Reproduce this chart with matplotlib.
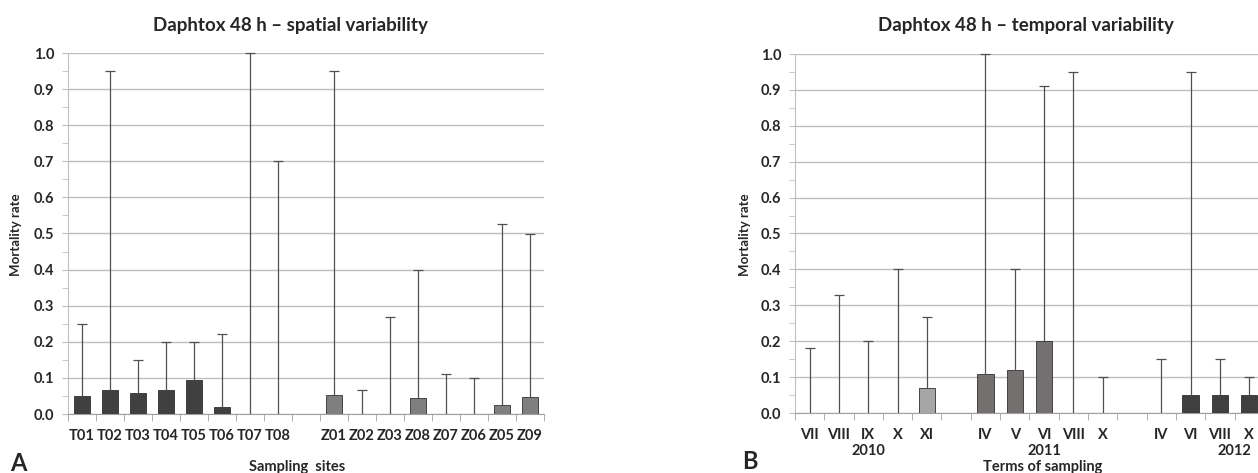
import numpy as np
import matplotlib
matplotlib.use("Agg")
from matplotlib import pyplot as plt
from matplotlib.ticker import MultipleLocator

plt.rcParams['font.family'] = ['Lato', 'DejaVu Sans']
plt.rcParams['font.weight'] = 'bold'

# spatial variability
sites = ["T01", "T02", "T03", "T04", "T05", "T06", "T07", "T08", "",
         "Z01", "Z02", "Z03", "Z08", "Z07", "Z06", "Z05", "Z09"]
site_mean = [0.05, 0.067, 0.058, 0.067, 0.095, 0.02, 0.0, 0.0, np.nan,
             0.052, 0.0, 0.0, 0.044, 0.0, 0.0, 0.025, 0.048]
site_max = [0.25, 0.95, 0.15, 0.2, 0.2, 0.222, 1.0, 0.7, np.nan,
            0.95, 0.067, 0.268, 0.4, 0.111, 0.1, 0.525, 0.5]
site_group = ["T"] * 8 + [""] + ["Z"] * 8

# temporal variability
terms = ["VII", "VIII", "IX", "X", "XI", "",
         "IV", "V", "VI", "VIII", "X", "",
         "IV", "VI", "VIII", "X", ""]
term_mean = [0, 0, 0, 0, 0.07, np.nan,
             0.11, 0.12, 0.2, 0, 0, np.nan,
             0, 0.05, 0.05, 0.05, np.nan]
term_max = [0.18, 0.33, 0.2, 0.4, 0.267, np.nan,
            1.0, 0.4, 0.91, 0.95, 0.1, np.nan,
            0.15, 0.95, 0.15, 0.1, np.nan]
term_year = ["2010"] * 5 + [""] + ["2011"] * 5 + [""] + ["2012"] * 4 + [""]
years = ["2010", "2011", "2012"]
year_pos = [2, 8, 14.5]

site_colors = {"T": "#404040", "Z": "#7f7f7f", "": "none"}
year_colors = {"2010": "#a6a6a6", "2011": "#747070", "2012": "#3f3f3f", "": "none"}

W, H = 1258, 473
fig = plt.figure(figsize=(W / 100, H / 100), dpi=100)
txt = "#262626"


def style_axes(ax, n):
    ax.set_ylim(0, 1.0)
    ax.set_xlim(-0.5, n - 0.5)
    ax.yaxis.set_major_locator(MultipleLocator(0.1))
    ax.yaxis.set_minor_locator(MultipleLocator(0.05))
    ax.yaxis.set_major_formatter(plt.FuncFormatter(lambda v, p: "%.1f" % v))
    ax.grid(axis="y", color="#bfbfbf", lw=1.0)
    ax.set_axisbelow(True)
    for s in ["top", "right"]:
        ax.spines[s].set_visible(False)
    ax.spines["left"].set_color("#bfbfbf")
    ax.spines["bottom"].set_color("#a0a0a0")
    ax.tick_params(axis="y", which="both", color="#bfbfbf", length=4,
                   labelsize=10.5, labelcolor=txt, pad=6)
    ax.tick_params(axis="x", which="major", length=0, labelsize=10.5,
                   labelcolor=txt, pad=11)
    ax.set_xticks(np.arange(-0.5, n, 1.0), minor=True)
    ax.tick_params(axis="x", which="minor", length=5, color="#a0a0a0")


def draw(ax, labels, mean, top, colors):
    n = len(labels)
    x = np.arange(n)
    mean = np.array(mean, dtype=float)
    top = np.array(top, dtype=float)
    ok = ~np.isnan(mean)
    has_bar = ok & (np.nan_to_num(mean) > 0)
    ax.bar(x[has_bar], mean[has_bar], width=0.55,
           color=[c for c, h in zip(colors, has_bar) if h],
           edgecolor="#303030", lw=0.6, zorder=3)
    ax.vlines(x[ok], mean[ok], top[ok], color="#505050", lw=0.9, zorder=4)
    ax.plot(x[ok], top[ok], ls="none", marker="_", ms=7, mew=0.9,
            color="#505050", zorder=4, clip_on=False)
    ax.set_xticks(x)
    ax.set_xticklabels(labels)
    style_axes(ax, n)


ax1 = fig.add_axes([68 / W, 1 - 414 / H, 476 / W, 361 / H])
draw(ax1, sites, site_mean, site_max, [site_colors[g] for g in site_group])

ax2 = fig.add_axes([795 / W, 1 - 413 / H, 17 * 29.3 / W, 359 / H])
draw(ax2, terms, term_mean, term_max, [year_colors[g] for g in term_year])
for yr, xp in zip(years, year_pos):
    ax2.text(xp, -0.085, yr, ha="center", va="top", fontsize=10.5,
             color=txt, transform=ax2.get_xaxis_transform(), clip_on=False)

fig.text(290 / W, 1 - 25 / H, "Daphtox 48 h – spatial variability",
         ha="center", va="center", fontsize=13.5, color=txt)
fig.text(1026 / W, 1 - 25 / H, "Daphtox 48 h – temporal variability",
         ha="center", va="center", fontsize=13.5, color=txt)
fig.text(16 / W, 1 - 235 / H, "Mortality rate", rotation=90,
         ha="center", va="center", fontsize=9.5, color=txt)
fig.text(745 / W, 1 - 235 / H, "Mortality rate", rotation=90,
         ha="center", va="center", fontsize=9.5, color=txt)
fig.text(297 / W, 1 - 467 / H, "Sampling  sites", ha="center", va="center",
         fontsize=10.5, color=txt)
fig.text(1043 / W, 1 - 467 / H, "Terms of sampling", ha="center", va="center",
         fontsize=10.5, color=txt)
fig.text(18 / W, 1 - 463 / H, "A", ha="center", va="center", fontsize=17,
         color=txt)
fig.text(750 / W, 1 - 461 / H, "B", ha="center", va="center", fontsize=17,
         color=txt)

fig.savefig("out.png", dpi=100)
